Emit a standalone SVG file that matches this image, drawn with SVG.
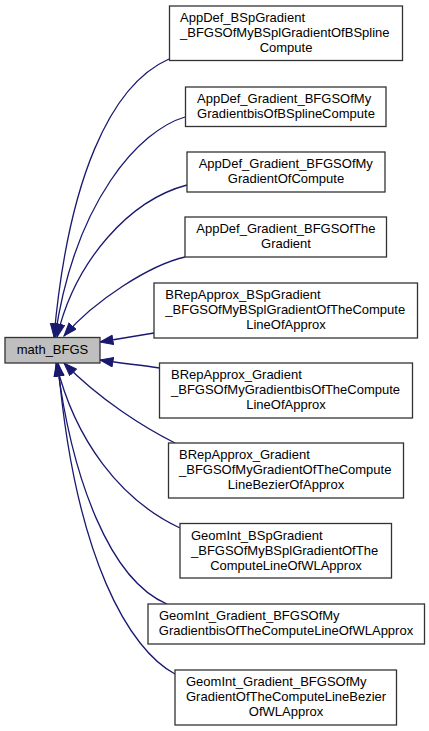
<svg xmlns="http://www.w3.org/2000/svg" width="429" height="731" viewBox="0 0 429 731">
<style>
.node rect{fill:#ffffff;stroke:#333333;stroke-width:1.3}
#n0 rect{fill:#bfbfbf}
text{font-family:"Liberation Sans",Arial,sans-serif;font-size:13px;fill:#000000}
.c{text-anchor:middle}
.edge{fill:none;stroke:#191970;stroke-width:1.3;marker-end:url(#arr)}
</style>
<defs>
<marker id="arr" markerUnits="userSpaceOnUse" markerWidth="15" markerHeight="11" refX="13.5" refY="5.2" orient="auto" viewBox="0 0 15 11">
<path d="M0.5,0.5 L13.5,5.2 L0.5,9.9 z" fill="#191970" stroke="#191970" stroke-width="1"/>
</marker>
</defs>
<rect width="429" height="731" fill="#ffffff"/>
<g id="edges">
<path class="edge" d="M169,59 C110,85 68,180 54,337"/>
<path class="edge" d="M185,117 C140,130 75,200 55,337"/>
<path class="edge" d="M187,185 C130,200 75,260 57,337"/>
<path class="edge" d="M185,257 C150,265 95,300 64,336"/>
<path class="edge" d="M154,333 C135,336 118,339 100,342"/>
<path class="edge" d="M159.5,368 C140,365 118,363 100,360"/>
<path class="edge" d="M175,443 C145,428 100,400 64,363"/>
<path class="edge" d="M180,528 C120,500 75,440 56,363"/>
<path class="edge" d="M167,604 C110,580 72,480 57,363"/>
<path class="edge" d="M175,674 C130,650 75,560 58,363"/>
</g>
<g id="n0" class="node"><rect x="5" y="337.5" width="95" height="25.5"/><text class="c" x="52.5" y="354">math_BFGS</text></g>
<g id="n1" class="node"><rect x="169.5" y="6" width="233" height="54.5"/><text x="180" y="21.8">AppDef_BSpGradient</text><text x="180" y="36.8">_BFGSOfMyBSplGradientOfBSpline</text><text class="c" x="286" y="51.8">Compute</text></g>
<g id="n2" class="node"><rect x="185.5" y="87" width="200.5" height="39.5"/><text x="197" y="103">AppDef_Gradient_BFGSOfMy</text><text class="c" x="286" y="118">GradientbisOfBSplineCompute</text></g>
<g id="n3" class="node"><rect x="187" y="152" width="198" height="40"/><text x="198.7" y="168">AppDef_Gradient_BFGSOfMy</text><text class="c" x="286" y="183">GradientOfCompute</text></g>
<g id="n4" class="node"><rect x="185" y="217" width="201.5" height="40"/><text x="196.3" y="233">AppDef_Gradient_BFGSOfThe</text><text class="c" x="286" y="248">Gradient</text></g>
<g id="n5" class="node"><rect x="154" y="283" width="263.5" height="55"/><text x="165.3" y="299">BRepApprox_BSpGradient</text><text x="165.3" y="314">_BFGSOfMyBSplGradientOfTheCompute</text><text class="c" x="286" y="329">LineOfApprox</text></g>
<g id="n6" class="node"><rect x="159.5" y="363" width="253" height="55"/><text x="171" y="379">BRepApprox_Gradient</text><text x="171" y="394">_BFGSOfMyGradientbisOfTheCompute</text><text class="c" x="286" y="409">LineOfApprox</text></g>
<g id="n7" class="node"><rect x="168.5" y="443" width="235" height="55"/><text x="179" y="459">BRepApprox_Gradient</text><text x="179" y="474">_BFGSOfMyGradientOfTheCompute</text><text class="c" x="286" y="489">LineBezierOfApprox</text></g>
<g id="n8" class="node"><rect x="180" y="523.5" width="211.5" height="54.5"/><text x="191" y="539.5">GeomInt_BSpGradient</text><text x="191" y="554.5">_BFGSOfMyBSplGradientOfThe</text><text class="c" x="286" y="569.5">ComputeLineOfWLApprox</text></g>
<g id="n9" class="node"><rect x="148" y="604" width="276.5" height="40"/><text x="159" y="620">GeomInt_Gradient_BFGSOfMy</text><text class="c" x="286" y="635">GradientbisOfTheComputeLineOfWLApprox</text></g>
<g id="n10" class="node"><rect x="175" y="670" width="221.5" height="55"/><text x="186" y="686">GeomInt_Gradient_BFGSOfMy</text><text x="186" y="701">GradientOfTheComputeLineBezier</text><text class="c" x="286" y="716">OfWLApprox</text></g>
</svg>
